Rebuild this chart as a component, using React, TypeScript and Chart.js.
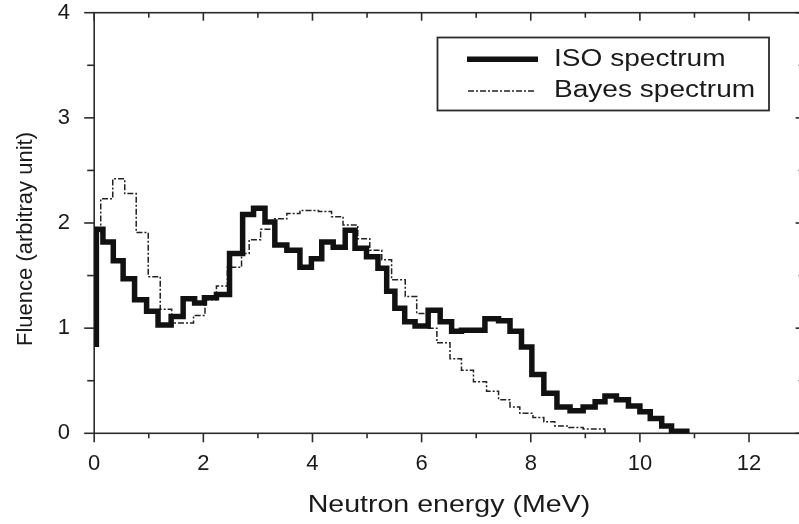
import { useEffect, useRef } from 'react';
import { Chart, registerables } from 'chart.js';

Chart.register(...registerables);

// ---- data (bin edges in MeV, bin values in arbitrary units) ----
const isoEdges = [0.04, 0.04, 0.16, 0.35, 0.53, 0.74, 0.96, 1.17, 1.41, 1.63, 1.84, 2.02, 2.24, 2.48, 2.72, 2.92, 3.13, 3.31, 3.53, 3.77, 3.98, 4.17, 4.38, 4.6, 4.78, 4.99, 5.2, 5.36, 5.51, 5.69, 5.88, 6.12, 6.34, 6.55, 6.73, 7.16, 7.41, 7.62, 7.83, 8.02, 8.24, 8.48, 8.72, 8.96, 9.18, 9.36, 9.57, 9.79, 10.0, 10.19, 10.4, 10.58, 10.86];
const isoValues = [0.82, 1.94, 1.82, 1.64, 1.47, 1.27, 1.16, 1.03, 1.11, 1.28, 1.24, 1.29, 1.32, 1.71, 2.08, 2.14, 2.01, 1.79, 1.74, 1.58, 1.66, 1.82, 1.77, 1.93, 1.76, 1.68, 1.57, 1.35, 1.19, 1.06, 1.02, 1.17, 1.06, 0.97, 0.98, 1.09, 1.07, 0.97, 0.82, 0.56, 0.38, 0.25, 0.215, 0.25, 0.3, 0.355, 0.32, 0.26, 0.205, 0.14, 0.07, 0.02];

const bayesEdges = [0.12, 0.12, 0.34, 0.56, 0.77, 0.99, 1.21, 1.42, 1.62, 1.82, 2.03, 2.24, 2.44, 2.7, 2.84, 3.05, 3.28, 3.53, 3.77, 4.11, 4.35, 4.56, 4.83, 5.05, 5.27, 5.45, 5.7, 5.91, 6.1, 6.28, 6.52, 6.73, 6.95, 7.19, 7.41, 7.62, 7.8, 8.04, 8.24, 8.44, 8.7, 8.96, 9.36];
const bayesValues = [1.9, 2.23, 2.42, 2.28, 1.91, 1.49, 1.18, 1.05, 1.05, 1.12, 1.27, 1.4, 1.58, 1.71, 1.84, 1.94, 2.04, 2.09, 2.12, 2.11, 2.06, 1.98, 1.85, 1.74, 1.65, 1.46, 1.3, 1.14, 1.0, 0.86, 0.71, 0.6, 0.49, 0.4, 0.32, 0.25, 0.19, 0.15, 0.11, 0.07, 0.055, 0.04];

const seriesNames = ['ISO spectrum', 'Bayes spectrum'];
const xTitle = 'Neutron energy (MeV)';
const yTitle = 'Fluence (arbitray unit)';
const xRange = [0, 13];
const yRange = [0, 4];
const xLabelStep = 2;
const xLabelMax = 12;

const FONT = '"Liberation Sans", Arial, Helvetica, sans-serif';
const INK = '#1a1a1a';
const AXIS = '#2b2b2b';
const BAYES_DASH = [6, 2, 2, 2];

function toSteps(edges: number[], values: number[]) {
  const pts = values.map((v, i) => ({ x: edges[i], y: v }));
  pts.push({ x: edges[edges.length - 1], y: 0 });
  return pts;
}

function zeroPadding(s: any) {
  s.paddingTop = 0;
  s.paddingBottom = 0;
  s.paddingLeft = 0;
  s.paddingRight = 0;
}

const framePlugin = {
  id: 'frameTicks',
  beforeDatasetsDraw(chart: any) {
    const { ctx, chartArea: a, scales } = chart;
    const x = scales.x;
    const y = scales.y;
    ctx.save();
    ctx.strokeStyle = AXIS;
    ctx.lineWidth = 1.6;
    ctx.lineCap = 'butt';
    ctx.strokeRect(a.left, a.top, a.right - a.left, a.bottom - a.top);
    const seg = (x1: number, y1: number, x2: number, y2: number) => {
      ctx.beginPath();
      ctx.moveTo(x1, y1);
      ctx.lineTo(x2, y2);
      ctx.stroke();
    };
    x.ticks.forEach((t: any) => {
      const px = x.getPixelForValue(t.value);
      const major = t.value % xLabelStep === 0;
      seg(px, a.bottom, px, a.bottom + (major ? 9 : 5));
      seg(px, a.top, px, a.top + (major ? 8 : 5));
    });
    y.ticks.forEach((t: any) => {
      const py = y.getPixelForValue(t.value);
      const major = Number.isInteger(t.value);
      seg(a.left - (major ? 10 : 7), py, a.left, py);
      seg(a.right - (major ? 8 : 5), py, a.right, py);
    });
    ctx.restore();
  },
  afterDraw(chart: any) {
    const { ctx, chartArea: a } = chart;
    ctx.save();
    ctx.fillStyle = INK;
    // x title
    ctx.save();
    ctx.font = `24px ${FONT}`;
    ctx.textAlign = 'center';
    ctx.textBaseline = 'alphabetic';
    ctx.translate((a.left + a.right) / 2, 511.5);
    ctx.scale(1.19, 1);
    ctx.fillText(xTitle, 0, 0);
    ctx.restore();
    // y title
    ctx.save();
    ctx.font = `22px ${FONT}`;
    ctx.textAlign = 'center';
    ctx.textBaseline = 'alphabetic';
    ctx.translate(32, 239);
    ctx.rotate(-Math.PI / 2);
    ctx.fillText(yTitle, 0, 0);
    ctx.restore();
    // legend
    ctx.fillStyle = '#ffffff';
    ctx.fillRect(437.5, 37.5, 331.5, 73);
    ctx.strokeStyle = AXIS;
    ctx.lineWidth = 1.8;
    ctx.strokeRect(437.5, 37.5, 331.5, 73);
    ctx.strokeStyle = '#111';
    ctx.lineWidth = 5.5;
    ctx.beginPath();
    ctx.moveTo(467, 59.3);
    ctx.lineTo(538, 59.3);
    ctx.stroke();
    ctx.lineWidth = 1.5;
    ctx.setLineDash(BAYES_DASH);
    ctx.strokeStyle = '#222';
    ctx.beginPath();
    ctx.moveTo(468, 91);
    ctx.lineTo(535, 91);
    ctx.stroke();
    ctx.setLineDash([]);
    ctx.fillStyle = INK;
    ctx.font = `23px ${FONT}`;
    ctx.textAlign = 'left';
    ctx.textBaseline = 'alphabetic';
    [[seriesNames[0], 65.7], [seriesNames[1], 97.3]].forEach(([t, by]) => {
      ctx.save();
      ctx.translate(554, by as number);
      ctx.scale(1.22, 1);
      ctx.fillText(t as string, 0, 0);
      ctx.restore();
    });
    ctx.restore();
  },
};

export default function App() {
  const ref = useRef<HTMLCanvasElement | null>(null);
  useEffect(() => {
    document.body.style.overflow = 'hidden';
    const canvas = ref.current;
    if (!canvas) return;
    const chart = new Chart(canvas, {
      type: 'line',
      data: {
        datasets: [
          {
            label: seriesNames[0],
            data: toSteps(isoEdges, isoValues),
            stepped: true,
            borderColor: '#111',
            borderWidth: 5.5,
            pointRadius: 0,
            fill: false,
            borderJoinStyle: 'miter',
            borderCapStyle: 'butt',
          },
          {
            label: seriesNames[1],
            data: toSteps(bayesEdges, bayesValues),
            stepped: true,
            borderColor: '#222',
            borderWidth: 1.5,
            borderDash: BAYES_DASH,
            pointRadius: 0,
            fill: false,
            borderJoinStyle: 'miter',
          },
        ],
      },
      options: {
        animation: false,
        responsive: true,
        maintainAspectRatio: false,
        devicePixelRatio: 1,
        layout: { padding: { top: 12.7, right: 6.4, left: 0, bottom: 0 } },
        plugins: { legend: { display: false }, tooltip: { enabled: false } },
        scales: {
          x: {
            type: 'linear',
            min: xRange[0],
            max: xRange[1],
            grid: { display: false, drawTicks: false, tickLength: 0 },
            border: { display: false },
            ticks: {
              stepSize: 1,
              autoSkip: false,
              maxRotation: 0,
              padding: 17.5,
              color: INK,
              font: { size: 22, family: FONT },
              callback: (v: any) => (v % xLabelStep === 0 && v <= xLabelMax ? String(v) : ''),
            },
            afterFit: (s: any) => {
              s.height = 90.7;
              zeroPadding(s);
            },
          },
          y: {
            type: 'linear',
            min: yRange[0],
            max: yRange[1],
            grid: { display: false, drawTicks: false, tickLength: 0 },
            border: { display: false },
            ticks: {
              stepSize: 0.5,
              autoSkip: false,
              padding: 24.2,
              color: INK,
              font: { size: 22, family: FONT },
              callback: (v: any) => (Number.isInteger(v) ? String(v) : ''),
            },
            afterFit: (s: any) => {
              s.width = 94.2;
              zeroPadding(s);
            },
          },
        },
      },
      plugins: [framePlugin],
    } as any);
    return () => chart.destroy();
  }, []);
  return (
    <div style={{ position: 'fixed', left: 0, top: 0, width: 810, height: 524, background: '#fff' }}>
      <canvas ref={ref} />
    </div>
  );
}
